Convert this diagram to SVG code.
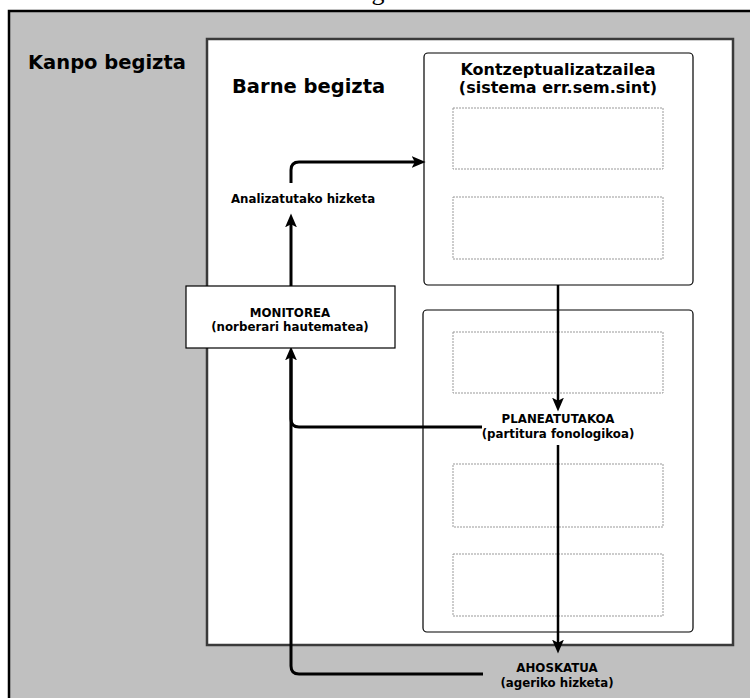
<svg xmlns="http://www.w3.org/2000/svg" width="750" height="698" viewBox="0 0 750 698">
<style>
text{font-family:"DejaVu Sans","Liberation Sans",sans-serif;font-weight:bold;fill:#000;text-anchor:middle}
.big{font-size:19.5px;text-anchor:start}
.mid{font-size:16px}
.sm{font-size:11.8px}
.box{fill:#fff;stroke:#000;stroke-width:1.2}
.dash{fill:#fff;stroke:#999;stroke-width:1;stroke-dasharray:2 1}
.conn{fill:none;stroke:#000;stroke-width:3;stroke-linejoin:round}
</style>
<defs>
<marker id="ah" markerUnits="userSpaceOnUse" markerWidth="14" markerHeight="14" viewBox="0 0 13 12" refX="5" refY="6" orient="auto">
<path d="M0,0.5 L13,6 L0,11.5 L3,6 z" fill="#000"/>
</marker>
</defs>
<text x="378" y="0" style="font-family:'Liberation Serif',serif;font-weight:normal;font-size:26px">g</text>
<g id="kanpo">
<rect x="9" y="11" width="760" height="710" fill="#c0c0c0" stroke="#000" stroke-width="2.5"/>
<text class="big" x="28" y="69">Kanpo begizta</text>
</g>
<g id="barne">
<rect x="207" y="39" width="526" height="606" fill="#fff" stroke="#3a3a3a" stroke-width="2.5"/>
<text class="big" x="232" y="93">Barne begizta</text>
</g>
<g id="kontzeptualizatzailea">
<rect class="box" x="424" y="53" width="269" height="232" rx="4"/>
<text class="mid" x="558" y="75">Kontzeptualizatzailea</text>
<text class="mid" x="558" y="93">(sistema err.sem.sint)</text>
<rect class="dash" x="453" y="108" width="210" height="61"/>
<rect class="dash" x="453" y="197" width="210" height="62"/>
</g>
<g id="formulatzailea">
<rect class="box" x="423" y="310" width="270" height="322" rx="4"/>
<rect class="dash" x="453" y="332" width="210" height="61"/>
<rect class="dash" x="453" y="464" width="210" height="63"/>
<rect class="dash" x="453" y="554" width="210" height="62"/>
</g>
<g id="connectors">
<path class="conn" style="stroke-width:2.5" d="M558,285 V403" marker-end="url(#ah)"/>
<path class="conn" style="stroke-width:2.5" d="M558,445 V645" marker-end="url(#ah)"/>
<path class="conn" d="M483,674 H299 Q291,674 291,666 V355" marker-end="url(#ah)"/>
<path class="conn" d="M482,427 H299 Q291,427 291,419 V355"/>
<path class="conn" d="M291,286 V222" marker-end="url(#ah)"/>
<path class="conn" d="M291,183 V170 Q291,162 299,162 H417" marker-end="url(#ah)"/>
</g>
<g id="planeatutakoa">
<text class="sm" x="558" y="423">PLANEATUTAKOA</text>
<text class="sm" x="558" y="438">(partitura fonologikoa)</text>
</g>
<g id="ahoskatua">
<text class="sm" x="557" y="672">AHOSKATUA</text>
<text class="sm" x="557" y="687">(ageriko hizketa)</text>
</g>
<g id="analizatutako">
<text class="sm" x="303" y="203">Analizatutako hizketa</text>
</g>
<g id="monitorea">
<rect class="box" x="186" y="286" width="209" height="62"/>
<text class="sm" x="290" y="317">MONITOREA</text>
<text class="sm" x="290" y="331">(norberari hautematea)</text>
</g>
</svg>
